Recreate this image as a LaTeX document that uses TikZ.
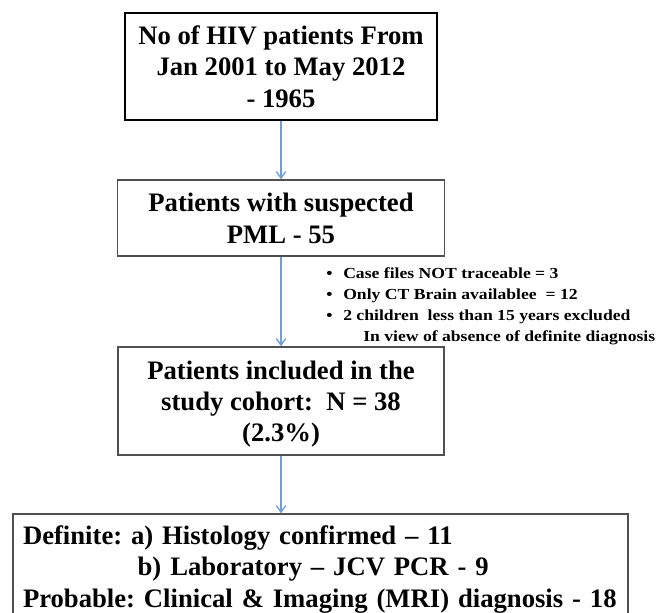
\documentclass[tikz,border=0pt]{standalone}
\usepackage{fontspec}
\setmainfont{Liberation Serif}
\newfontfamily\notefont[FakeStretch=1.15]{Liberation Serif}
\usepackage{tikz}
\usetikzlibrary{arrows.meta}
\definecolor{arrowblue}{RGB}{112,158,212}
\definecolor{boxgray}{RGB}{80,80,80}
\frenchspacing

\begin{document}
\begin{tikzpicture}[x=0.75pt, y=-0.75pt,
    box/.style={draw=boxgray, line width=1pt, align=center, inner sep=0pt,
        font=\fontsize{20}{23.5}\selectfont\bfseries, text depth=0pt},
    headbox/.style={box, draw=black, line width=1.8pt},
    flow/.style={-{Straight Barb[length=5pt, width=7pt]}, draw=arrowblue, line width=1pt}]
						\clip (0,0) rectangle (660,612);
						\draw (281,66.5) node[headbox, minimum width=234pt, minimum height=80.25pt, text height=61pt] (total) {No of HIV patients From\\Jan 2001 to May 2012\\- 1965};
	    					\draw (281,218) node[box, minimum width=245.25pt, minimum height=57pt, text height=37.5pt] (suspect) {Patients with suspected\\PML - 55};
	    					\draw (281,401) node[box, minimum width=244.5pt, minimum height=81pt, text height=61pt] (cohort) {Patients included in the\\study cohort:\ \ N = 38\\(2.3\%)};
	    					\draw (320.5,566.5) node[box, align=left, inner xsep=7.5pt, text width=446.25pt, minimum height=78.75pt, text height=14pt, text depth=47pt] (diag) {Definite: a) Histology confirmed -- 11\\\hspace*{86pt}b) Laboratory -- JCV PCR - 9\\Probable: Clinical \& Imaging (MRI) diagnosis - 18};
	    					\draw (326,266) node[anchor=north west, inner sep=0pt, align=left, font=\notefont\fontsize{11.5}{15.75}\selectfont\bfseries, text height=56.25pt, text depth=3pt] (excl) {\makebox[12.75pt][l]{\textbullet}Case files NOT traceable = 3\\\makebox[12.75pt][l]{\textbullet}Only CT Brain availablee\ \ = 12\\\makebox[12.75pt][l]{\textbullet}2 children\ \ less than 15 years excluded\\\hspace*{27.75pt}In view of absence of definite\ diagnosis};
	    					\draw[flow] (total) -- (suspect);
	    					\draw[flow] (suspect) -- (cohort);
	    					\draw[flow] (cohort) -- (cohort.south |- diag.north);
		    			\end{tikzpicture}
\end{document}
